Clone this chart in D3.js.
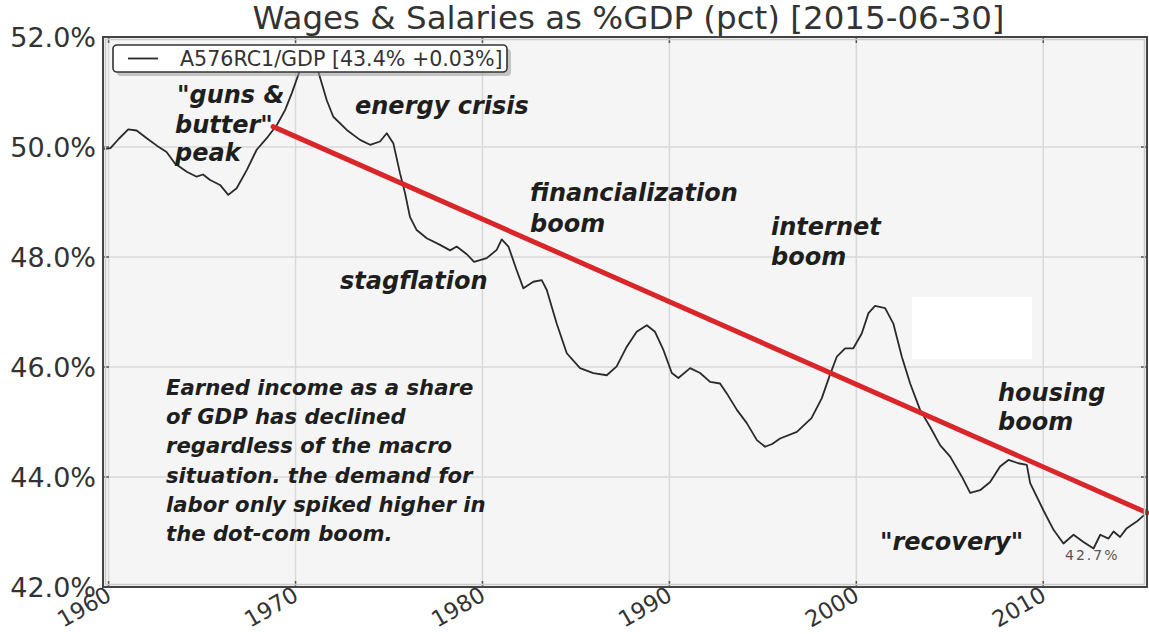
<!DOCTYPE html>
<html lang="en">
<head>
<meta charset="utf-8">
<title>Wages & Salaries as %GDP</title>
<script src="https://d3js.org/d3.v7.min.js"></script>
<style>
  body { margin: 0; background: #fff; }
</style>
</head>
<body>
<svg id="chart"></svg>
<script>
// A576RC1/GDP (year, percent)
var years = [1959.75, 1960.10, 1960.55, 1961.05, 1961.50, 1962.04, 1962.60, 1963.10, 1963.55, 1964.18,
  1964.71, 1965.05, 1965.43, 1965.96, 1966.40, 1966.85, 1967.39, 1967.92, 1968.46, 1969.00,
  1969.44, 1969.80, 1970.24, 1970.50, 1970.75, 1971.00, 1971.22, 1971.67, 1972.02, 1972.74,
  1973.45, 1973.99, 1974.52, 1974.88, 1975.23, 1975.59, 1975.86, 1976.12, 1976.48, 1977.02,
  1977.73, 1978.27, 1978.62, 1979.16, 1979.55, 1980.23, 1980.76, 1981.03, 1981.39, 1981.83,
  1982.19, 1982.72, 1983.17, 1983.44, 1983.97, 1984.51, 1985.22, 1985.93, 1986.65, 1987.18,
  1987.72, 1988.25, 1988.79, 1989.23, 1989.68, 1990.13, 1990.48, 1991.11, 1991.64, 1992.18,
  1992.71, 1993.07, 1993.61, 1994.14, 1994.68, 1995.12, 1995.50, 1995.92, 1996.82, 1997.60,
  1998.15, 1998.55, 1998.96, 1999.40, 1999.84, 2000.29, 2000.65, 2001.00, 2001.54, 2001.98,
  2002.43, 2002.88, 2003.41, 2003.95, 2004.48, 2005.02, 2005.64, 2006.09, 2006.62, 2007.16,
  2007.69, 2008.14, 2008.67, 2009.12, 2009.30, 2010.00, 2010.55, 2011.08, 2011.62, 2012.15,
  2012.69, 2013.05, 2013.49, 2013.76, 2014.11, 2014.47, 2015.00, 2015.50];
var wageShare = [49.96, 49.98, 50.15, 50.32, 50.30, 50.16, 50.02, 49.91, 49.70, 49.55,
  49.46, 49.50, 49.40, 49.31, 49.13, 49.25, 49.58, 49.95, 50.16, 50.40,
  50.67, 50.98, 51.40, 51.70, 51.75, 51.60, 51.37, 50.85, 50.55, 50.31,
  50.13, 50.04, 50.10, 50.25, 50.07, 49.52, 49.16, 48.73, 48.49, 48.34,
  48.22, 48.12, 48.19, 48.05, 47.91, 47.98, 48.13, 48.32, 48.19, 47.76,
  47.43, 47.55, 47.58, 47.40, 46.79, 46.25, 45.98, 45.89, 45.85, 46.01,
  46.37, 46.64, 46.76, 46.64, 46.31, 45.89, 45.80, 45.98, 45.89, 45.73,
  45.70, 45.52, 45.22, 44.98, 44.67, 44.55, 44.60, 44.70, 44.82, 45.07,
  45.43, 45.82, 46.19, 46.34, 46.34, 46.61, 46.98, 47.11, 47.07, 46.79,
  46.19, 45.70, 45.22, 44.91, 44.58, 44.37, 44.01, 43.71, 43.76, 43.91,
  44.19, 44.31, 44.25, 44.22, 43.89, 43.40, 43.04, 42.79, 42.95, 42.82,
  42.70, 42.95, 42.88, 43.01, 42.91, 43.07, 43.19, 43.34];

// hand-drawn red trend line
var trendYears = [1968.8, 2015.55];
var trendValues = [50.37, 43.35];

var xTicks = [1960, 1970, 1980, 1990, 2000, 2010];
var yTicks = [42, 44, 46, 48, 50, 52];

var titleText = "Wages & Salaries as %GDP (pct) [2015-06-30]";
var legendText = "A576RC1/GDP [43.4% +0.03%]";
var lowLabel = "42.7%";

var width = 1149, height = 634;
var plot = {left: 103, top: 37, right: 1147, bottom: 587};

var svg = d3.select("#chart").attr("width", width).attr("height", height);

var x = d3.scaleLinear().domain([1959.7, 2015.55]).range([plot.left, plot.right]);
var y = d3.scaleLinear().domain([42, 52]).range([plot.bottom, plot.top]);

var pw = plot.right - plot.left, ph = plot.bottom - plot.top;

// plot background
svg.append("rect")
  .attr("x", plot.left).attr("y", plot.top)
  .attr("width", pw).attr("height", ph)
  .attr("fill", "#f5f5f5");

// grid
svg.append("g").selectAll("line").data(xTicks).enter().append("line")
  .attr("x1", d => x(d)).attr("x2", d => x(d))
  .attr("y1", plot.top).attr("y2", plot.bottom)
  .attr("stroke", "#d9d9d9").attr("stroke-width", 1.5);
svg.append("g").selectAll("line").data(yTicks).enter().append("line")
  .attr("x1", plot.left).attr("x2", plot.right)
  .attr("y1", d => y(d)).attr("y2", d => y(d))
  .attr("stroke", "#d9d9d9").attr("stroke-width", 1.5);

// inside tick marks on all four sides
var tickLen = 6;
var tk = svg.append("g").attr("stroke", "#555").attr("stroke-width", 1.5);
xTicks.forEach(function(t) {
  tk.append("line").attr("x1", x(t)).attr("x2", x(t)).attr("y1", plot.bottom).attr("y2", plot.bottom - tickLen);
  tk.append("line").attr("x1", x(t)).attr("x2", x(t)).attr("y1", plot.top).attr("y2", plot.top + tickLen);
});
yTicks.forEach(function(t) {
  tk.append("line").attr("x1", plot.left).attr("x2", plot.left + tickLen).attr("y1", y(t)).attr("y2", y(t));
  tk.append("line").attr("x1", plot.right).attr("x2", plot.right - tickLen).attr("y1", y(t)).attr("y2", y(t));
});

// series
var series = years.map((d, i) => [d, wageShare[i]]);
var line = d3.line().x(d => x(d[0])).y(d => y(d[1]));

svg.append("path")
  .datum(series)
  .attr("d", line)
  .attr("fill", "none")
  .attr("stroke", "#2a2a2a")
  .attr("stroke-width", 1.8)
  .attr("stroke-linejoin", "round");

// trend
svg.append("path")
  .datum(trendYears.map((d, i) => [d, trendValues[i]]))
  .attr("d", line)
  .attr("fill", "none")
  .attr("stroke", "#d9262a")
  .attr("stroke-width", 5)
  .attr("stroke-linecap", "round");

// white patch over the chart
svg.append("rect")
  .attr("x", 912).attr("y", 297).attr("width", 120).attr("height", 62)
  .attr("fill", "#fff");

// frame
svg.append("rect")
  .attr("x", plot.left + 2.5).attr("y", plot.top + 2.5)
  .attr("width", pw - 5).attr("height", ph - 5)
  .attr("fill", "none").attr("stroke", "#cccccc").attr("stroke-width", 1.5);
svg.append("rect")
  .attr("x", plot.left).attr("y", plot.top)
  .attr("width", pw).attr("height", ph)
  .attr("fill", "none").attr("stroke", "#444").attr("stroke-width", 2);

// axis labels
var tickFont = "DejaVu Sans";
svg.append("g").selectAll("text").data(yTicks).enter().append("text")
  .attr("x", plot.left - 7)
  .attr("y", d => y(d))
  .attr("dy", "0.36em")
  .attr("text-anchor", "end")
  .attr("font-family", tickFont).attr("font-size", 27)
  .attr("fill", "#333")
  .text(d => d.toFixed(1) + "%");

svg.append("g").selectAll("text").data(xTicks).enter().append("text")
  .attr("transform", d => "translate(" + (x(d) - 4) + "," + (plot.bottom - 2) + ") rotate(-30)")
  .attr("dy", "0.74em")
  .attr("text-anchor", "end")
  .attr("font-family", tickFont).attr("font-size", 22.5)
  .attr("fill", "#333")
  .text(d => d);

// title
svg.append("text")
  .attr("x", 628.5).attr("y", 29)
  .attr("text-anchor", "middle")
  .attr("font-family", tickFont).attr("font-size", 32.5)
  .attr("fill", "#333")
  .text(titleText);

// legend with shadow
var lg = svg.append("g");
lg.append("rect").attr("x", 117).attr("y", 49).attr("width", 394).attr("height", 27).attr("rx", 4)
  .attr("fill", "#9a9a9a").attr("opacity", 0.55);
lg.append("rect").attr("x", 113).attr("y", 45).attr("width", 394).attr("height", 27).attr("rx", 4)
  .attr("fill", "#fff").attr("stroke", "#333").attr("stroke-width", 1.6);
lg.append("line").attr("x1", 128).attr("x2", 158).attr("y1", 58.5).attr("y2", 58.5)
  .attr("stroke", "#2a2a2a").attr("stroke-width", 1.8);
lg.append("text").attr("x", 180).attr("y", 65.5)
  .attr("font-family", tickFont).attr("font-size", 20.6)
  .attr("fill", "#333")
  .text(legendText);

// annotations
var notes = [
  {t: '"guns &', x: 177, y: 103},
  {t: 'butter"', x: 175, y: 133},
  {t: 'peak', x: 175, y: 161},
  {t: 'energy crisis', x: 355, y: 114},
  {t: 'financialization', x: 530, y: 201},
  {t: 'boom', x: 530, y: 232},
  {t: 'internet', x: 771, y: 235},
  {t: 'boom', x: 771, y: 265},
  {t: 'stagflation', x: 340, y: 289},
  {t: 'housing', x: 998, y: 401},
  {t: 'boom', x: 998, y: 430},
  {t: '"recovery"', x: 880, y: 550}
];
var para = ["Earned income as a share", "of GDP has declined", "regardless of the macro",
  "situation. the demand for", "labor only spiked higher in", "the dot-com boom."];

var noteFont = "DejaVu Sans";
svg.append("g").selectAll("text").data(notes).enter().append("text")
  .attr("x", d => d.x).attr("y", d => d.y)
  .attr("font-family", noteFont).attr("font-weight", "bold").attr("font-style", "italic")
  .attr("font-size", 24)
  .attr("fill", "#1e1e1e")
  .text(d => d.t);

svg.append("g").selectAll("text").data(para).enter().append("text")
  .attr("x", 166).attr("y", (d, i) => 395 + i * 29.2)
  .attr("font-family", noteFont).attr("font-weight", "bold").attr("font-style", "italic")
  .attr("font-size", 21.2)
  .attr("fill", "#1e1e1e")
  .text(d => d);

svg.append("text")
  .attr("x", 1065).attr("y", 560)
  .attr("font-family", tickFont).attr("font-size", 14)
  .attr("letter-spacing", 2)
  .attr("fill", "#555")
  .text(lowLabel);
</script>
</body>
</html>
